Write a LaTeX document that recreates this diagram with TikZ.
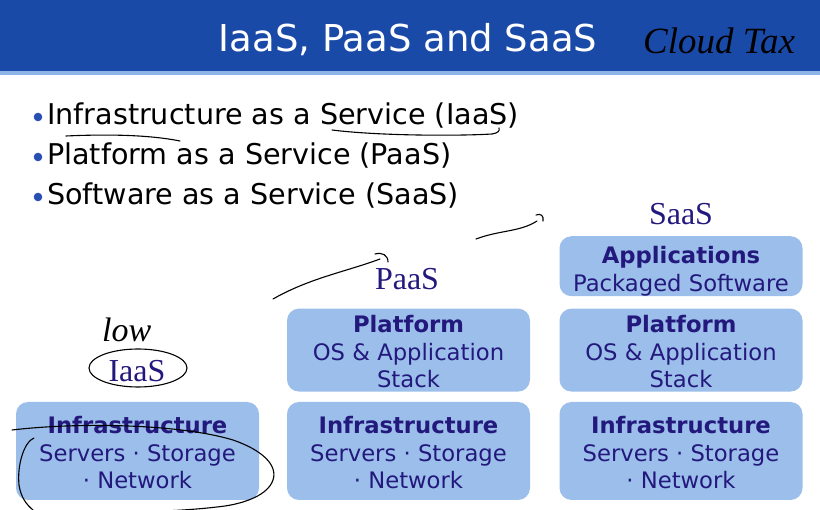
\documentclass[tikz,border=0pt]{standalone}
\usepackage{fontspec}
\setmainfont{DejaVu Sans}
\newfontfamily\tierfont{Liberation Serif}
\usetikzlibrary{positioning}

\definecolor{headerblue}{RGB}{26,74,168}
\definecolor{stripeblue}{RGB}{141,180,232}
\definecolor{boxblue}{RGB}{155,190,234}
\definecolor{boxtext}{RGB}{35,25,125}
\definecolor{dotblue}{RGB}{40,80,180}

% first-line strut to push box text down a little
\newcommand{\liftstrut}[1]{\rule{0pt}{#1}}

\tikzset{
  layerbox/.style={fill=boxblue, rounded corners=12pt, align=center, inner sep=0pt,
    minimum width=243pt, text=boxtext, font=\fontsize{22.7}{27.5}\selectfont},
  tierlabel/.style={anchor=base, text=boxtext, font=\tierfont\fontsize{32}{32}\selectfont},
  bulletline/.style={anchor=base west, inner sep=0pt, font=\fontsize{28.6}{30}\selectfont},
  inkstroke/.style={black, line width=1.1pt, line cap=round, line join=round},
  inktext/.style={anchor=base west, inner sep=0pt, font=\tierfont\itshape\fontsize{#1}{#1}\selectfont},
  inktext/.default=32
}

\begin{document}
\begin{tikzpicture}[x=1pt, y=-1pt]
\useasboundingbox (0,0) rectangle (820,510);

% Title bar
\fill[headerblue] (0,0) rectangle (820,71);
\fill[stripeblue] (0,71) rectangle (820,75);
\node[anchor=base, text=white, font=\fontsize{37}{37}\selectfont] (title) at (408,52) {IaaS, PaaS and SaaS};

% Bullets
\foreach \txt [count=\i] in {Infrastructure as a Service (IaaS), Platform as a Service (PaaS), Software as a Service (SaaS)} {
  \fill[dotblue] (38,{77+40*\i}) circle (4.3);
  \node[bulletline] (bullet\i) at (47,{85+40*\i}) {\txt};
}

% IaaS column
\node[layerbox, minimum height=98pt] (infraI) at (137.5,451) {\liftstrut{21pt}\textbf{Infrastructure}\\Servers · Storage\\· Network};
\node[tierlabel] (iaas) at (137,382) {IaaS};

% PaaS column
\node[layerbox, minimum height=98pt] (infraP) at (408.5,451) {\liftstrut{21pt}\textbf{Infrastructure}\\Servers · Storage\\· Network};
\node[layerbox, minimum height=83pt, above=10pt of infraP] (platP) {\liftstrut{21pt}\textbf{Platform}\\OS \& Application\\Stack};
\node[tierlabel] (paas) at (407,290) {PaaS};

% SaaS column
\node[layerbox, minimum height=98pt] (infraS) at (681,451) {\liftstrut{21pt}\textbf{Infrastructure}\\Servers · Storage\\· Network};
\node[layerbox, minimum height=83pt, above=10pt of infraS] (platS) {\liftstrut{21pt}\textbf{Platform}\\OS \& Application\\Stack};
\node[layerbox, minimum height=60pt, above=12pt of platS] (appsS) {\liftstrut{27pt}\textbf{Applications}\\Packaged Software};
\node[tierlabel] (saas) at (681,225) {SaaS};

% Handwritten notes
\node[inktext=37] (cloudtax) at (643,54) {Cloud Tax};
\node[inktext=34] (low) at (102,342) {low};
\draw[inkstroke] (66,136) .. controls (110,134) and (150,135) .. (180,141);
\draw[inkstroke] (332,130) .. controls (380,136) and (460,136) .. (492,134) .. controls (498,133) and (500,131) .. (499,128);
\draw[inkstroke] (273,299) .. controls (310,278) and (345,272) .. (380,259);
\draw[inkstroke] (375,254) .. controls (382,252) and (388,255) .. (388,262);
\draw[inkstroke] (476,239) .. controls (500,230) and (520,232) .. (537,221);
\draw[inkstroke] (536,215) .. controls (541,213) and (544,216) .. (543,221);
\draw[inkstroke] (138,368) ellipse (49 and 19);
\draw[inkstroke] (12,430) .. controls (80,422) and (180,424) .. (233,440)
  .. controls (262,450) and (278,465) .. (273,480)
  .. controls (268,495) and (245,503) .. (225,506)
  .. controls (195,510) and (165,511) .. (140,512);
\draw[inkstroke] (34,438) .. controls (24,442) and (17,465) .. (19,485) .. controls (21,498) and (27,505) .. (33,510);
\end{tikzpicture}
\end{document}
